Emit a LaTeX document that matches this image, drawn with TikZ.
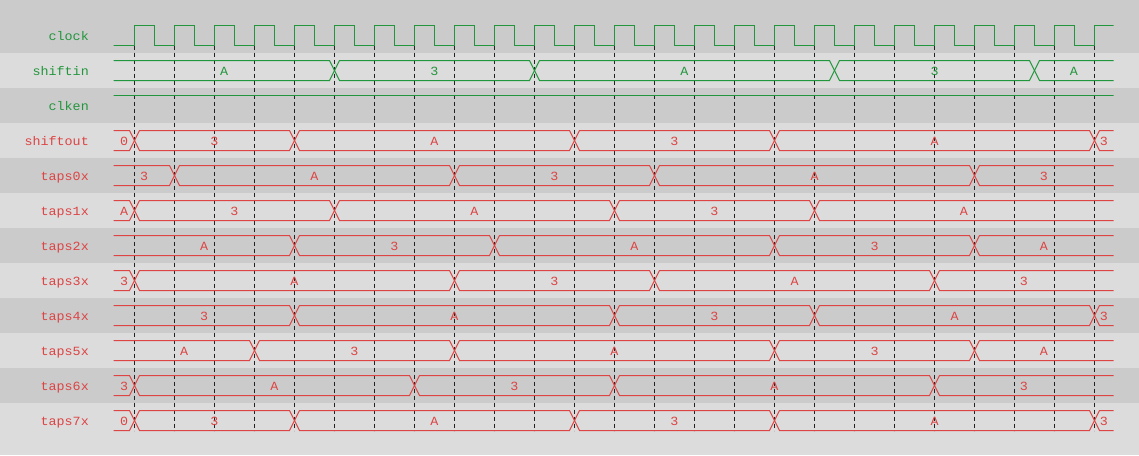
\documentclass[tikz,border=0pt]{standalone}
\usepackage{fontspec}
\newfontfamily\wavefont[FakeStretch=1.07]{Liberation Mono}
\definecolor{bgdark}{HTML}{CBCBCB}
\definecolor{bglight}{HTML}{DCDCDC}
\definecolor{sigin}{HTML}{22963C}
\definecolor{sigout}{HTML}{DD4444}
\definecolor{tickline}{HTML}{222222}
\tikzset{
  wavetext/.style={font=\wavefont\fontsize{12.5}{14}\selectfont, inner sep=0pt},
  sigName/.style={wavetext, anchor=base east},
  sigValue/.style={wavetext, anchor=base},
  inwave/.style={draw=sigin, line width=1pt},
  outwave/.style={draw=sigout, line width=1pt},
  tickdash/.style={draw=tickline, line width=1pt, dash pattern=on 4pt off 3pt},
}
% #1 row index, #2 style (inwave/outwave), #3 text colour, #4 segments a/b/value
\newcommand{\wavebus}[4]{%
  \pgfmathsetmacro\rowc{35.5+35*#1}%
  \foreach \sa/\sb/\sv [count=\si] in {#4} {
    \pgfmathsetmacro\saa{\sa<115 ? 104 : \sa}
    \pgfmathsetmacro\sbb{\sb>1112 ? 1123 : \sb}
    \path[#2] (\saa,\rowc) -- (\saa+5,\rowc-10) -- (\sbb-5,\rowc-10) -- (\sbb,\rowc)
      -- (\sbb-5,\rowc+10) -- (\saa+5,\rowc+10) -- cycle;
    \node[sigValue, text=#3] (v#1s\si) at ({(\sa+\sb)/2},\rowc+4.5) {\sv};
  }%
}
\begin{document}
\begin{tikzpicture}[x=1pt,y=-1pt]
\useasboundingbox (0,0) rectangle (1139,455);
% background bands
\fill[bglight] (0,0) rectangle (1139,455);
\fill[bgdark] (0,0) rectangle (1139,53);
\foreach \r in {2,4,6,8,10} {
  \fill[bgdark] (0,{18+35*\r}) rectangle (1139,{53+35*\r});
}
% clock-edge markers
\foreach \k in {0,...,24} {
  \draw[tickdash] ({134.5+40*\k},45.5) -- ({134.5+40*\k},430.5);
}
% signal names
\foreach \nm/\r/\cl in {clock/0/sigin, shiftin/1/sigin, clken/2/sigin, shiftout/3/sigout,
  taps0x/4/sigout, taps1x/5/sigout, taps2x/6/sigout, taps3x/7/sigout,
  taps4x/8/sigout, taps5x/9/sigout, taps6x/10/sigout, taps7x/11/sigout} {
  \node[sigName, text=\cl] (name\r) at (89,{35.5+35*\r+4.5}) {\nm};
}
\begin{scope}
\clip (113.5,0) rectangle (1113.5,455);
% clock
\draw[inwave] (104,45.5) \foreach \k in {0,...,24} {
  -- ({134.5+40*\k},45.5) -- ({134.5+40*\k},25.5) -- ({154.5+40*\k},25.5) -- ({154.5+40*\k},45.5) };
% clken
\draw[inwave] (104,95.5) -- (1123,95.5);
\wavebus{1}{inwave}{sigin}{114/334.5/A, 334.5/534.5/3, 534.5/834.5/A, 834.5/1034.5/3, 1034.5/1113/A}
\wavebus{3}{outwave}{sigout}{114/134.5/0, 134.5/294.5/3, 294.5/574.5/A, 574.5/774.5/3, 774.5/1094.5/A, 1094.5/1113/3}
\wavebus{4}{outwave}{sigout}{114/174.5/3, 174.5/454.5/A, 454.5/654.5/3, 654.5/974.5/A, 974.5/1113/3}
\wavebus{5}{outwave}{sigout}{114/134.5/A, 134.5/334.5/3, 334.5/614.5/A, 614.5/814.5/3, 814.5/1113/A}
\wavebus{6}{outwave}{sigout}{114/294.5/A, 294.5/494.5/3, 494.5/774.5/A, 774.5/974.5/3, 974.5/1113/A}
\wavebus{7}{outwave}{sigout}{114/134.5/3, 134.5/454.5/A, 454.5/654.5/3, 654.5/934.5/A, 934.5/1113/3}
\wavebus{8}{outwave}{sigout}{114/294.5/3, 294.5/614.5/A, 614.5/814.5/3, 814.5/1094.5/A, 1094.5/1113/3}
\wavebus{9}{outwave}{sigout}{114/254.5/A, 254.5/454.5/3, 454.5/774.5/A, 774.5/974.5/3, 974.5/1113/A}
\wavebus{10}{outwave}{sigout}{114/134.5/3, 134.5/414.5/A, 414.5/614.5/3, 614.5/934.5/A, 934.5/1113/3}
\wavebus{11}{outwave}{sigout}{114/134.5/0, 134.5/294.5/3, 294.5/574.5/A, 574.5/774.5/3, 774.5/1094.5/A, 1094.5/1113/3}
\end{scope}
\end{tikzpicture}
\end{document}
